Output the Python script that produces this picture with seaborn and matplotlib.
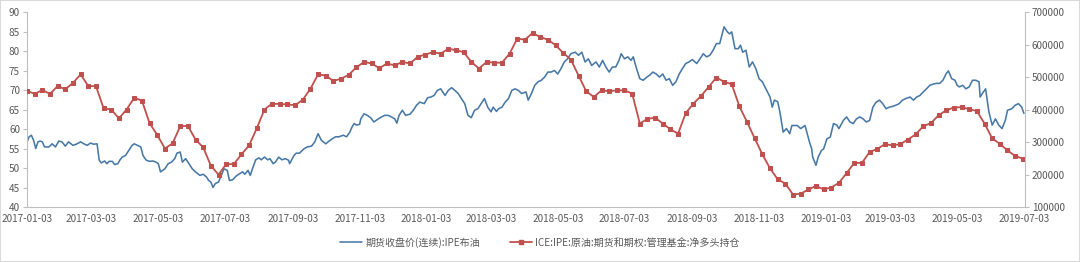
import numpy as np
import pandas as pd
import matplotlib
matplotlib.use("Agg")
import matplotlib.pyplot as plt
import matplotlib.dates as mdates
from matplotlib.lines import Line2D
import seaborn as sns

# ---------------- data ----------------
start_date = "2017-01-03"
blue_label = "期货收盘价(连续):IPE布油"
red_label = "ICE:IPE:原油:期货和期权:管理基金:净多头持仓"

# Brent close: day offsets from start_date and prices
blue_day = [0, 2, 4, 6, 8, 10, 12, 14, 16, 20, 23, 26, 29, 32, 35, 38, 42, 45, 49, 52,
            55, 58, 61, 64, 66, 68, 71, 73, 75, 78, 80, 83, 85, 87, 90, 93, 96, 98, 101, 104,
            106, 109, 112, 115, 118, 120, 122, 126, 129, 132, 135, 137, 140, 142, 145, 148, 151, 154, 158, 161,
            164, 166, 168, 170, 172, 175, 177, 180, 183, 185, 188, 191, 194, 197, 199, 202, 204, 206, 209, 212,
            214, 217, 220, 222, 225, 227, 230, 233, 236, 239, 240, 244, 246, 249, 253, 256, 260, 263, 266, 269,
            273, 276, 279, 282, 285, 289, 292, 295, 297, 299, 301, 304,
            305, 308, 311, 314, 317, 321, 324, 327, 330, 333, 336, 338, 340, 343, 346, 350, 353, 356, 359, 363,
            366, 369, 372, 375, 378, 382, 385, 388, 391, 394, 397, 400, 403, 406, 409, 412, 415, 418, 421, 424,
            426, 429, 431, 434, 437, 440, 443, 446, 449, 452, 456, 458, 461, 464, 467, 470, 473, 476, 479, 482,
            485, 488, 491, 494, 497, 501, 504, 507, 510, 513, 516, 520, 523, 526, 529, 532, 535, 538, 541, 543,
            546, 549, 552, 554, 557, 560, 563, 566, 569, 572, 575, 578, 581, 584, 587, 590, 593, 596, 599, 602,
            605, 608, 612, 615, 618, 621, 624, 627, 630, 633,
            635, 637, 640, 642, 644, 647, 650, 652, 654, 657, 660, 663, 666, 669, 672, 676, 679, 681, 683, 686,
            688, 691, 694, 697, 699, 702, 704, 707, 711, 713, 715, 717, 718, 721, 723, 726, 728, 731, 734, 737,
            740, 742, 746, 749, 752, 755, 758, 761, 764, 767, 770, 773, 776, 779, 782, 785, 788, 791, 794, 797,
            800, 803, 807, 810, 813, 816, 819, 822, 825, 828, 831, 834, 837, 840, 842, 845, 848, 850, 852, 855,
            858, 861, 864, 867, 870, 871, 874, 876, 879, 882, 885, 888, 891, 894, 896, 900, 903, 906, 909, 911]
blue_price = [56.7, 58.0, 58.4, 57.1, 55.0, 56.7, 56.9, 56.7, 55.4, 55.4, 56.2, 55.4, 56.9, 56.7, 55.6, 56.7, 55.8, 56.1, 56.7, 56.2,
              55.8, 56.4, 56.1, 56.2, 52.0, 51.3, 51.8, 51.1, 51.7, 51.7, 50.9, 51.1, 52.1, 52.8, 53.2, 54.5, 55.8, 56.2, 55.8, 55.4,
              53.2, 52.0, 51.7, 51.8, 51.5, 51.1, 49.0, 49.8, 51.1, 51.5, 52.4, 53.8, 54.1, 51.5, 52.4, 51.1, 49.8, 49.0, 48.1, 48.4,
              47.7, 46.8, 46.4, 45.0, 46.0, 46.4, 47.7, 49.8, 49.4, 46.8, 47.0, 47.9, 48.5, 49.0, 48.4, 49.4, 48.1, 49.8, 52.1, 52.6,
              52.1, 52.8, 52.1, 52.4, 51.1, 51.5, 52.8, 52.1, 52.4, 52.0, 51.1, 53.2, 53.8, 53.8, 54.9, 55.4, 55.6, 56.7, 58.8, 57.1,
              56.2, 56.9, 57.5, 58.0, 58.0, 58.4, 58.0, 59.2, 60.5, 61.4, 61.0, 61.2,
              62.6, 63.9, 63.5, 62.9, 61.8, 62.6, 63.1, 63.5, 63.5, 63.1, 62.6, 61.5, 63.5, 64.8, 63.5, 63.8, 64.8, 66.1, 66.9, 66.5,
              68.0, 68.2, 68.6, 69.9, 70.3, 68.6, 69.9, 70.6, 69.9, 69.1, 67.8, 66.5, 63.5, 62.9, 64.8, 65.2, 66.5, 67.8, 65.6, 64.4,
              65.6, 64.5, 65.2, 65.6, 66.9, 67.8, 69.9, 70.3, 69.9, 69.1, 69.5, 67.4, 69.1, 71.2, 72.1, 72.5, 73.3, 74.6, 74.6, 75.0,
              74.1, 75.5, 77.2, 78.0, 79.3, 79.7, 78.9, 79.7, 77.2, 78.0, 76.3, 77.2, 75.9, 77.6, 75.9, 74.6, 75.9, 75.9, 77.6, 79.3,
              78.0, 78.5, 77.6, 78.5, 75.5, 72.9, 72.5, 73.2, 73.8, 74.6, 74.1, 73.3, 74.1, 72.5, 72.9, 71.2, 72.1, 74.1, 75.5, 76.8,
              77.2, 77.8, 76.8, 78.0, 79.3, 78.5, 78.9, 80.2, 81.9, 81.9,
              84.0, 86.2, 84.9, 84.4, 84.9, 80.6, 80.6, 81.5, 79.7, 80.2, 75.9, 77.2, 75.5, 72.9, 72.1, 69.9, 68.2, 65.6, 67.4, 67.0,
              64.4, 59.2, 60.1, 58.8, 60.9, 60.9, 60.9, 60.1, 60.9, 58.8, 56.7, 55.0, 52.8, 50.7, 52.8, 54.5, 54.9, 57.5, 57.9, 61.4,
              61.0, 60.1, 62.2, 63.1, 61.8, 61.4, 62.6, 63.1, 62.6, 61.8, 62.2, 65.6, 66.9, 67.4, 66.5, 65.2, 65.6, 65.8, 66.1, 66.5,
              67.4, 67.8, 68.2, 67.4, 68.2, 68.6, 69.5, 70.3, 71.2, 71.5, 71.7, 71.7, 72.5, 74.2, 74.9, 72.9, 72.5, 71.2, 70.8, 71.2,
              70.3, 70.8, 72.5, 72.5, 72.1, 68.2, 69.5, 70.3, 64.4, 61.0, 62.6, 61.0, 60.1, 62.2, 64.8, 65.2, 66.1, 66.5, 65.6, 64.0]

# Managed-money net long (weekly, Tuesdays from start_date)
red_net_long = [457600, 448000, 460000, 448000, 472000, 462400, 481600, 508000, 472000, 472000,
                403600, 400000, 372400, 400000, 436000, 427600, 358000, 322000, 280000, 295600,
                348400, 349600, 307600, 283600, 227200, 199600, 232000, 232000, 262000, 289600,
                342400, 400000, 418000, 416800, 415600, 413200, 430000, 463600, 508000, 504400,
                487600, 494800, 506800, 529600,
                546400, 541600, 527200, 541600, 535600, 546400, 541600, 562000, 569200, 576400,
                571600, 587200, 582400, 576400, 546400, 526000, 546400, 544000, 544000, 571600,
                618400, 614800, 635200, 623200, 614800, 598000, 574000, 553600, 504400, 456400,
                438400, 458800, 456400, 458800, 458800, 449200, 356800, 371200, 374800, 356800,
                338800, 325600, 389200, 418000, 442000, 469600, 498400,
                485200, 478000, 409600, 361600, 311200, 262000, 218800, 185200, 172000, 138400,
                140800, 154000, 164800, 154000, 160000, 174400, 204400, 235600, 235600, 269200,
                278800, 293200, 289600, 293200, 307600, 323200, 348400, 358000, 382000, 397600,
                406000, 407200, 401200, 395200, 356800, 311200, 294400, 274000, 257200, 248800]

left_ticks = [40, 45, 50, 55, 60, 65, 70, 75, 80, 85, 90]
right_ticks = [100000, 200000, 300000, 400000, 500000, 600000, 700000]
x_tick_start, x_tick_end = "2017-01-03", "2019-07-03"

# ---------------- build frames ----------------
t0 = pd.Timestamp(start_date)
blue_df = pd.DataFrame({"date": t0 + pd.to_timedelta(blue_day, unit="D"), "price": blue_price})
red_df = pd.DataFrame({"date": pd.date_range(t0, periods=len(red_net_long), freq="7D"),
                       "net": red_net_long})

# ---------------- style ----------------
sns.set_style("white")
plt.rcParams["font.family"] = ["Noto Sans CJK SC", "DejaVu Sans"]

BLUE = "#4878a6"
RED = "#c0504d"
GRAY_TXT = "#595959"
SPINE = "#bfbfbf"

fig = plt.figure(figsize=(10.8, 2.62), dpi=100, linewidth=1.2, edgecolor="#d9d9d9")
ax = fig.add_axes([27 / 1080, 1 - 207 / 262, (1025 - 27) / 1080, (207 - 12) / 262])
ax2 = ax.twinx()

sns.lineplot(data=blue_df, x="date", y="price", ax=ax, color=BLUE, linewidth=1.15)
sns.lineplot(data=red_df, x="date", y="net", ax=ax2, color=RED, linewidth=1.3,
             marker="s", markersize=3.2, markeredgecolor=RED, markerfacecolor=RED)

ax.set_ylim(40, 90)
ax.set_yticks(left_ticks)
ax2.set_ylim(100000, 700000)
ax2.set_yticks(right_ticks)

xt = pd.date_range(x_tick_start, x_tick_end, freq=pd.DateOffset(months=2))
ax.set_xlim(pd.Timestamp(x_tick_start), pd.Timestamp(x_tick_end) + pd.Timedelta(days=1))
ax.set_xticks(xt)
ax.xaxis.set_major_formatter(mdates.DateFormatter("%Y-%m-%d"))

for a in (ax, ax2):
    a.set_xlabel("")
    a.set_ylabel("")
    a.grid(False)
    a.spines["top"].set_visible(False)
    for s in ("left", "right", "bottom"):
        a.spines[s].set_color(SPINE)
        a.spines[s].set_linewidth(0.8)
    a.tick_params(axis="both", colors=SPINE, labelcolor=GRAY_TXT, labelsize=7.2,
                  length=3, width=0.8, direction="out", pad=2)
ax.spines["right"].set_visible(False)
ax2.spines["left"].set_visible(False)
ax2.spines["bottom"].set_visible(False)

handles = [Line2D([], [], color=BLUE, linewidth=1.15),
           Line2D([], [], color=RED, linewidth=1.3, marker="s", markersize=2.8)]
fig.legend(handles, [blue_label, red_label], loc="center", bbox_to_anchor=(0.5, 0.075),
           ncol=2, frameon=False, fontsize=7.2, handlelength=2.2, columnspacing=3.0,
           labelcolor=GRAY_TXT, handletextpad=0.3)

fig.savefig("out.png", dpi=100, edgecolor=fig.get_edgecolor())
